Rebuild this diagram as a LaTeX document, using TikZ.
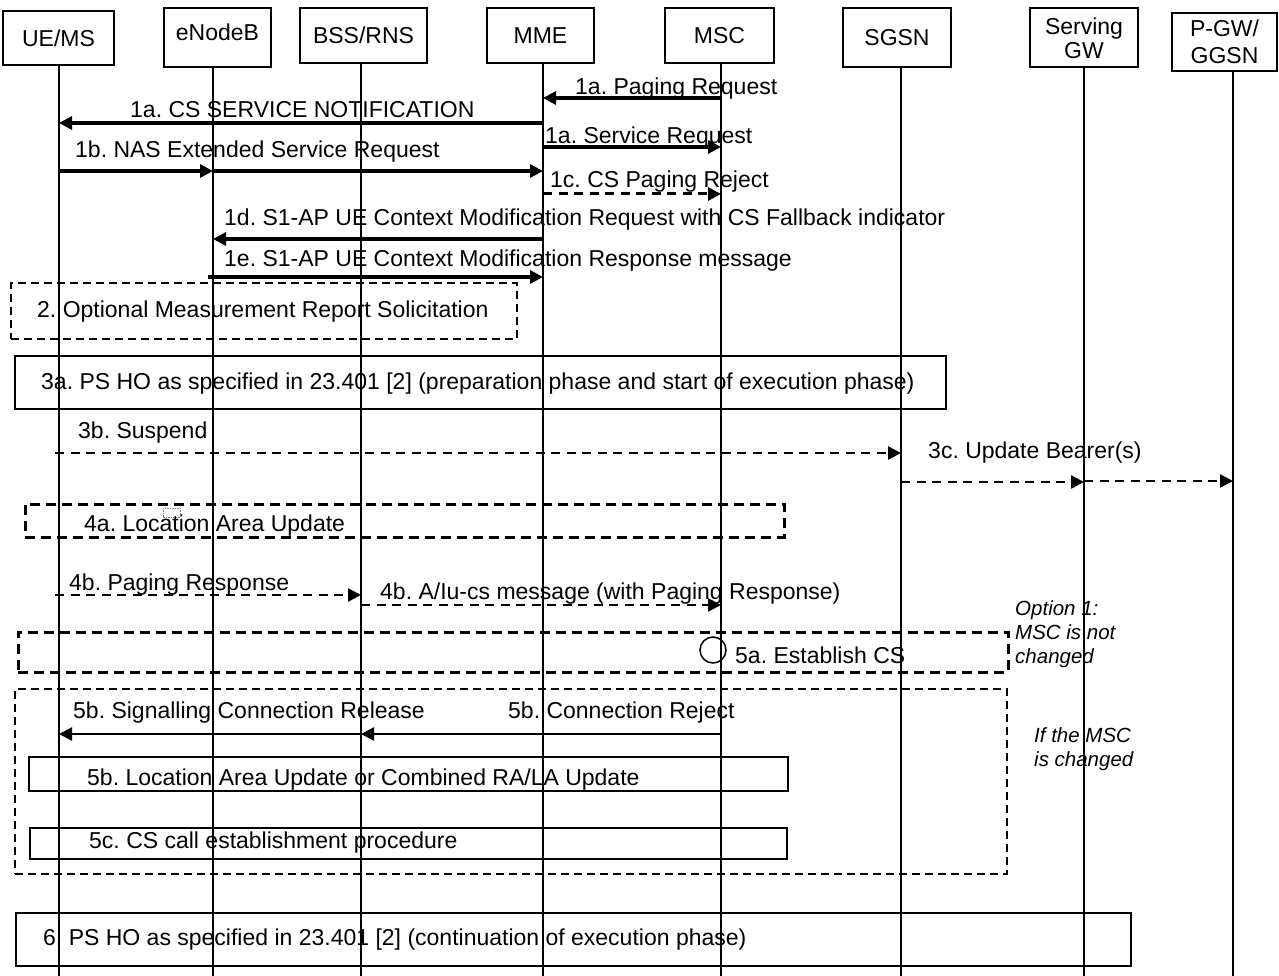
\documentclass[tikz,border=0pt]{standalone}
\usepackage{fontspec}
\setmainfont{Liberation Sans}
\usetikzlibrary{arrows.meta}
\frenchspacing
\begin{document}
\begin{tikzpicture}[x=1pt,y=-1pt,
  font=\fontsize{23}{26}\selectfont,
  hdr/.style={draw, line width=2pt, inner sep=0pt, align=center},
  life/.style={line width=2.2pt},
  msg/.style={line width=3.4pt, -{Triangle[length=13pt,width=13pt]}},
  msgthin/.style={line width=2.3pt, -{Triangle[length=13pt,width=13pt]}},
  dmsg/.style={line width=2.5pt, dash pattern=on 9pt off 6.5pt, -{Triangle[length=13pt,width=13pt]}},
  lbl/.style={anchor=base west, inner sep=0pt},
  ilbl/.style={anchor=north west, inner sep=0pt, align=left, font=\fontsize{20.5}{24}\selectfont\itshape},
  box/.style={draw, line width=2pt, inner sep=0pt, anchor=north west},
  dbox/.style={draw, line width=2.5pt, dash pattern=on 10pt off 6pt, inner sep=0pt, anchor=north west},
  tdbox/.style={draw, line width=1.6pt, dash pattern=on 8pt off 5pt, inner sep=0pt, anchor=north west},
]
\useasboundingbox (0,0) rectangle (1279,976);

% header boxes
\node[hdr, minimum width=111pt, minimum height=54pt] (ue) at (58.5,38) {UE/MS};
\node[hdr, minimum width=107pt, minimum height=59pt, text depth=10pt] (enb) at (217.5,37.5) {eNodeB};
\node[hdr, minimum width=127pt, minimum height=55pt] (bss) at (363.5,35.5) {BSS/RNS};
\node[hdr, minimum width=107pt, minimum height=55pt] (mme) at (540.5,35.5) {MME};
\node[hdr, minimum width=109pt, minimum height=55pt] (msc) at (719.5,35.5) {MSC};
\node[hdr, minimum width=108pt, minimum height=59pt] (sgsn) at (897,37.5) {SGSN};
\node[hdr, minimum width=108pt, minimum height=59pt, font=\fontsize{23}{24}\selectfont] (sgw) at (1084,38) {Serving\\GW};
\node[hdr, minimum width=105pt, minimum height=58pt, font=\fontsize{23}{27}\selectfont] (pgw) at (1224.5,42) {P-GW/\\GGSN};

% lifelines
\coordinate (ueL) at (59,980);
\coordinate (enbL) at (213,980);
\coordinate (bssL) at (361,980);
\coordinate (mmeL) at (543,980);
\coordinate (mscL) at (721,980);
\coordinate (sgsnL) at (901,980);
\coordinate (sgwL) at (1084,980);
\coordinate (pgwL) at (1233,980);
\foreach \n in {ue,enb,bss,mme,msc,sgsn,sgw,pgw}
  \draw[life] (\n L |- \n.south) -- (\n L);

% messages
\draw[msg] (mscL |- 0,98) -- (mmeL |- 0,98);
\node[lbl] (t1a) at (575,95) {1a. Paging Request};
\draw[msg] (mmeL |- 0,123) -- (ueL |- 0,123);
\node[lbl] (t1acs) at (130,118) {1a. CS SERVICE NOTIFICATION};
\draw[msg] (mmeL |- 0,147) -- (mscL |- 0,147);
\node[lbl] (t1asr) at (545,144) {1a. Service Request};
\draw[msg] (ueL |- 0,171) -- (enbL |- 0,171);
\draw[msg] (enbL |- 0,171) -- (mmeL |- 0,171);
\node[lbl] (t1b) at (75,158) {1b. NAS Extended Service Request};
\draw[dmsg, line width=3pt] (mmeL |- 0,194) -- (mscL |- 0,194);
\node[lbl] (t1c) at (550,188) {1c. CS Paging Reject};
\draw[msg] (mmeL |- 0,239) -- (enbL |- 0,239);
\node[lbl] (t1d) at (224,226) {1d. S1-AP UE Context Modification Request with CS Fallback indicator};
\draw[msg, shorten <=-5pt] (enbL |- 0,277) -- (mmeL |- 0,277);
\node[lbl] (t1e) at (224,266) {1e. S1-AP UE Context Modification Response message};

% 2
\node[tdbox, minimum width=506pt, minimum height=56pt] (b2) at (10,282) {};
\node[lbl] (t2) at (37,317) {2. Optional Measurement Report Solicitation};

% 3a
\node[box, minimum width=931pt, minimum height=53pt] (b3a) at (14,355) {};
\node[lbl] (t3a) at (41,389) {3a. PS HO as specified in 23.401 [2] (preparation phase and start of execution phase)};

% 3b, 3c
\draw[dmsg, shorten <=-4pt] (ueL |- 0,453) -- (sgsnL |- 0,453);
\node[lbl] (t3b) at (78,438) {3b. Suspend};
\draw[dmsg] (sgsnL |- 0,482) -- (sgwL |- 0,482);
\draw[dmsg] (sgwL |- 0,481) -- (pgwL |- 0,481);
\node[lbl] (t3c) at (928,458) {3c. Update Bearer(s)};

% 4a
\node[dbox, minimum width=759pt, minimum height=33pt] (b4a) at (24,503) {};
\node[lbl] (t4a) at (84,531) {4a. Location Area Update};
\node[draw, gray, line width=0.5pt, dash pattern=on 1.5pt off 1pt, minimum width=17pt, minimum height=9pt, inner sep=0pt, anchor=north west] (tiny) at (163,508) {};

% 4b
\draw[dmsg, shorten <=-4pt] (ueL |- 0,595) -- (bssL |- 0,595);
\node[lbl] (t4b) at (69,590) {4b. Paging Response};
\draw[dmsg] (bssL |- 0,605) -- (mscL |- 0,605);
\node[lbl] (t4bb) at (380,599) {4b. A/Iu-cs message (with Paging Response)};

% 5a
\node[dbox, minimum width=990pt, minimum height=40pt] (b5a) at (17,631) {};
\node[draw, circle, line width=1.5pt, minimum size=26pt, inner sep=0pt] (c5a) at (713,650) {};
\node[lbl] (t5a) at (735,663) {5a. Establish CS};
\node[ilbl] (opt1) at (1015,600) {Option 1:\\MSC is not\\changed};

% 5b/5c
\node[tdbox, minimum width=992pt, minimum height=185pt] (b5) at (14,688) {};
\draw[msgthin] (mscL |- 0,734) -- (bssL |- 0,734);
\draw[msgthin] (bssL |- 0,734) -- (ueL |- 0,734);
\node[lbl] (t5bs) at (73,718) {5b. Signalling Connection Release};
\node[lbl] (t5bc) at (508,718) {5b. Connection Reject};
\node[box, minimum width=759pt, minimum height=34pt] (b5b) at (28,756) {};
\node[lbl] (t5bl) at (87,785) {5b. Location Area Update or Combined RA/LA Update};
\node[box, minimum width=757pt, minimum height=31pt] (b5c) at (29,827) {};
\node[lbl] (t5c) at (89,848) {5c. CS call establishment procedure};
\node[ilbl] (ifmsc) at (1034,727) {If the MSC\\is changed};

% 6
\node[box, minimum width=1115pt, minimum height=53pt] (b6) at (15,912) {};
\node[lbl] (t6) at (43,945) {6. PS HO as specified in 23.401 [2] (continuation of execution phase)};
\end{tikzpicture}
\end{document}
